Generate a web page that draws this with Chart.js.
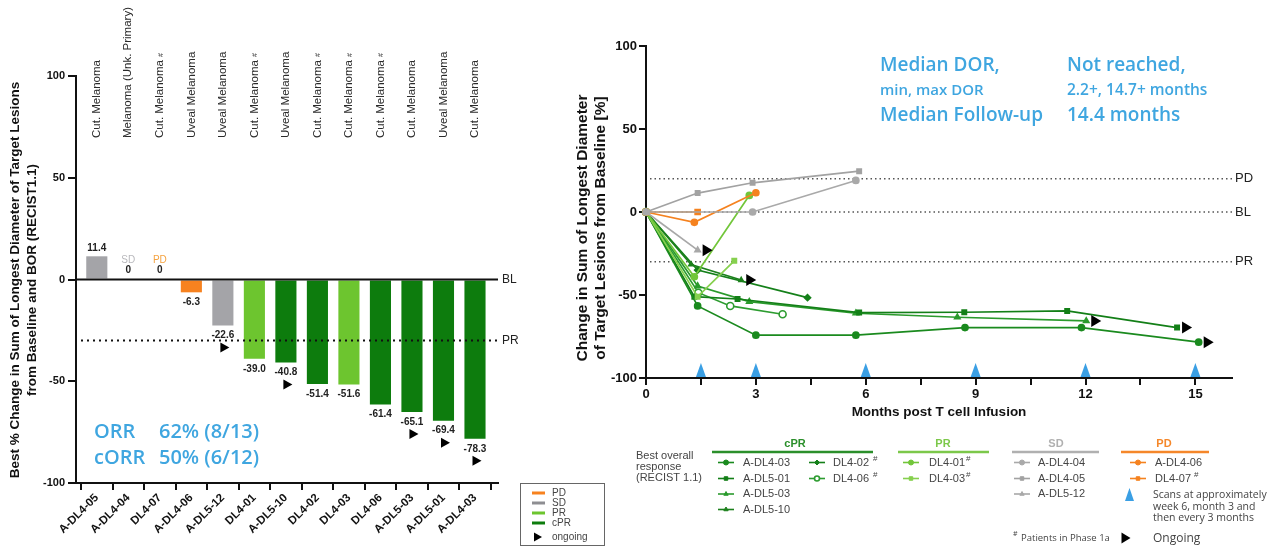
<!DOCTYPE html>
<html><head><meta charset="utf-8">
<script src="https://cdn.jsdelivr.net/npm/chart.js@4.4.0/dist/chart.umd.min.js"></script>
<style>
html,body{margin:0;padding:0;background:#fff;width:1275px;height:548px;overflow:hidden;}
#w1{position:absolute;left:0;top:0;width:620px;height:548px;}
#w2{position:absolute;left:560px;top:0;width:715px;height:548px;}
</style></head><body>
<div id="w1"><canvas id="c1"></canvas></div>
<div id="w2"><canvas id="c2"></canvas></div>
<script>
// ---------- Left chart data (waterfall) ----------
const patients = ['A-DL4-05','A-DL4-04','DL4-07','A-DL4-06','A-DL5-12','DL4-01','A-DL5-10','DL4-02','DL4-03','DL4-06','A-DL5-03','A-DL5-01','A-DL4-03'];
const bestChange = [11.4, 0, 0, -6.3, -22.6, -39.0, -40.8, -51.4, -51.6, -61.4, -65.1, -69.4, -78.3];
const bestResponse = ['SD','SD','PD','PD','SD','PR','cPR','cPR','PR','cPR','cPR','cPR','cPR'];
const indications = ['Cut. Melanoma','Melanoma (Unk. Primary)','Cut. Melanoma','Uveal Melanoma','Uveal Melanoma','Cut. Melanoma','Uveal Melanoma','Cut. Melanoma','Cut. Melanoma','Cut. Melanoma','Cut. Melanoma','Uveal Melanoma','Cut. Melanoma'];
const phase1a = [false,false,true,false,false,true,false,true,true,true,false,false,false];
const ongoingBar = [false,false,false,false,true,false,true,false,false,false,true,true,true];
const yTicksLeft = [-100,-50,0,50,100];
const prLine = -30;
const pdLine = 20;

// ---------- Right chart data (spider) ----------
const m_ADL4_03 = [0, 1.41, 3.0, 5.73, 8.71, 11.89, 15.09];
const v_ADL4_03 = [0, -56.6, -74.2, -74.2, -69.6, -69.6, -78.4];
const m_ADL5_01 = [0, 1.32, 2.5, 5.82, 8.69, 11.5, 14.5];
const v_ADL5_01 = [0, -51.0, -52.4, -60.6, -60.4, -59.6, -69.6];
const m_ADL5_03 = [0, 1.41, 2.82, 5.73, 8.5, 12.02];
const v_ADL5_03 = [0, -44.6, -54.0, -61.0, -63.4, -65.6];
const m_ADL5_10 = [0, 1.23, 2.6];
const v_ADL5_10 = [0, -31.6, -41.0];
const m_DL4_02 = [0, 1.41, 4.41];
const v_DL4_02 = [0, -35.0, -51.6];
const m_DL4_06 = [0, 1.43, 2.3, 3.73];
const v_DL4_06 = [0, -48.6, -56.6, -61.6];
const m_DL4_01 = [0, 1.32, 2.82];
const v_DL4_01 = [0, -39.0, 10.0];
const m_DL4_03 = [0, 1.41, 2.41];
const v_DL4_03 = [0, -51.0, -29.4];
const m_ADL4_04 = [0, 2.91, 5.73];
const v_ADL4_04 = [0, 0, 19.0];
const m_ADL4_05 = [0, 1.41, 2.91, 5.82];
const v_ADL4_05 = [0, 11.4, 17.6, 24.6];
const m_ADL5_12 = [0, 1.41];
const v_ADL5_12 = [0, -23.0];
const m_ADL4_06 = [0, 1.32, 3.0];
const v_ADL4_06 = [0, -6.2, 11.6];
const m_DL4_07 = [0, 1.41];
const v_DL4_07 = [0, 0];
const scanMonths = [1.5, 3, 6, 9, 12, 15];
const xTicksRight = [0, 3, 6, 9, 12, 15];

const COL = {SD:'#A4A4A8', PD:'#F7821F', PR:'#6DC52F', cPR:'#0D7C0D'};
const BLUE = '#3FA6E0';
const SANS = '"Liberation Sans", Arial, sans-serif';
const CAL = '"Open Sans", "Noto Sans", sans-serif';

function rightArrow(ctx, x, y, w, h){
  ctx.beginPath(); ctx.moveTo(x - w/2, y - h/2); ctx.lineTo(x + w/2, y); ctx.lineTo(x - w/2, y + h/2); ctx.closePath();
  ctx.fillStyle = '#000'; ctx.fill();
}

// ---------- Left chart ----------
const leftDeco = {
  id: 'leftDeco',
  afterDatasetsDraw(chart){
    const {ctx, chartArea: ca} = chart; const x = chart.scales.x, y = chart.scales.y;
    ctx.save();
    const y0 = y.getPixelForValue(0), yPR = y.getPixelForValue(prLine);
    ctx.strokeStyle = '#111'; ctx.lineWidth = 2;
    ctx.beginPath(); ctx.moveTo(ca.left, y0); ctx.lineTo(ca.right, y0); ctx.stroke();
    ctx.setLineDash([2,4]); ctx.beginPath(); ctx.moveTo(ca.left + 5, yPR); ctx.lineTo(ca.right, yPR); ctx.stroke(); ctx.setLineDash([]);
    ctx.fillStyle = '#222'; ctx.font = '12px ' + SANS; ctx.textBaseline = 'middle'; ctx.textAlign = 'left';
    ctx.fillText('BL', ca.right + 4, y0); ctx.fillText('PR', ca.right + 4, yPR);
    // value labels
    ctx.textAlign = 'center';
    bestChange.forEach((v, i) => {
      const px = x.getPixelForValue(i), py = y.getPixelForValue(v);
      ctx.font = 'bold 10px ' + SANS; ctx.fillStyle = '#222';
      if (v > 0) ctx.fillText(v.toFixed(1), px, py - 8);
      else if (v === 0) {
        ctx.fillText('0', px, y0 - 9);
        ctx.font = '10px ' + SANS; ctx.fillStyle = bestResponse[i] === 'PD' ? '#F5A340' : '#B8B8BC';
        ctx.fillText(bestResponse[i], px, y0 - 19);
      } else {
        ctx.fillText(v.toFixed(1), px, py + 10);
        if (ongoingBar[i]) rightArrow(ctx, px + 2, py + 22, 9, 10);
      }
    });
    // indication labels (rotated)
    indications.forEach((t, i) => {
      const px = x.getPixelForValue(i);
      ctx.save(); ctx.translate(px, 138); ctx.rotate(-Math.PI/2);
      ctx.font = '11.5px ' + SANS; ctx.fillStyle = '#2a2a2a'; ctx.textAlign = 'left'; ctx.textBaseline = 'middle';
      ctx.fillText(t, 0, 0);
      if (phase1a[i]) { const w = ctx.measureText(t).width; ctx.font = '7px ' + SANS; ctx.fillText('#', w + 3, 1); }
      ctx.restore();
    });
    // ORR text
    ctx.fillStyle = BLUE; ctx.font = '600 20px ' + CAL; ctx.textAlign = 'left'; ctx.textBaseline = 'middle';
    ctx.fillText('ORR', 94, 432); ctx.fillText('62% (8/13)', 159, 432);
    ctx.fillText('cORR', 94, 458); ctx.fillText('50% (6/12)', 159, 458);
    // y title
    ctx.save(); ctx.fillStyle = '#111'; ctx.font = 'bold 13.5px ' + SANS; ctx.textAlign = 'center';
    ctx.translate(15, 280); ctx.rotate(-Math.PI/2);
    ctx.fillText('Best % Change in Sum of Longest Diameter of Target Lesions', 0, 0);
    ctx.fillText('from Baseline and BOR (RECIST1.1)', 0, 17);
    ctx.restore();
    // legend box
    ctx.strokeStyle = '#666'; ctx.lineWidth = 1; ctx.strokeRect(520.5, 483.5, 84, 62);
    const items = [['PD', COL.PD], ['SD', '#8E8E92'], ['PR', COL.PR], ['cPR', COL.cPR]];
    ctx.font = '10px ' + SANS; ctx.textBaseline = 'middle';
    items.forEach((it, k) => {
      const yy = 493 + k * 10;
      ctx.strokeStyle = it[1]; ctx.lineWidth = 3; ctx.beginPath(); ctx.moveTo(532, yy); ctx.lineTo(545, yy); ctx.stroke();
      ctx.fillStyle = '#444'; ctx.fillText(it[0], 552, yy);
    });
    rightArrow(ctx, 538, 537, 8, 9);
    ctx.fillStyle = '#444'; ctx.fillText('ongoing', 552, 537);
    ctx.restore();
  }
};

new Chart(document.getElementById('c1'), {
  type: 'bar',
  data: { datasets: [{
    data: patients.map((p, i) => ({x: i, y: bestChange[i]})),
    backgroundColor: bestResponse.map(r => COL[r]),
    barPercentage: 0.67, categoryPercentage: 1.0, borderWidth: 0
  }]},
  options: {
    responsive: true, maintainAspectRatio: false, animation: false, devicePixelRatio: 1,
    layout: { padding: { left: 0, right: 122, top: 76, bottom: 0 } },
    plugins: { legend: { display: false }, tooltip: { enabled: false } },
    scales: {
      x: { type: 'linear', min: -0.66, max: 12.73, offset: false,
        afterBuildTicks: s => { s.ticks = patients.map((p, i) => ({ value: i })); },
        afterFit: s => { s.height = 65; },
        ticks: { autoSkip: false, minRotation: 45, maxRotation: 45, padding: 1,
          callback: v => patients[v], color: '#111', font: { size: 11.5, weight: 'bold', family: SANS } },
        grid: { drawOnChartArea: false, tickLength: 7, color: '#111', lineWidth: 2 },
        border: { color: '#111', width: 2 } },
      y: { min: -100, max: 100,
        afterBuildTicks: s => { s.ticks = yTicksLeft.map(v => ({ value: v })); },
        afterFit: s => { s.width = 76; },
        ticks: { padding: 3, color: '#111', font: { size: 11, weight: 'bold', family: SANS } },
        grid: { drawOnChartArea: false, tickLength: 8, color: '#111', lineWidth: 2 },
        border: { color: '#111', width: 2 } }
    }
  },
  plugins: [leftDeco]
});

// ---------- Right chart ----------
const OX = 560;
function ser(label, ms, vs, color, style, opts){
  return Object.assign({ label, data: ms.map((m, i) => ({x: m, y: vs[i]})), borderColor: color, backgroundColor: color,
    pointBackgroundColor: color, pointBorderColor: color, pointStyle: style, pointRadius: 3, borderWidth: 1.7, clip: false, tension: 0 }, opts || {});
}
const GR = {a:'#1A8A1E', b:'#137F17', c:'#2A9A2C', d:'#1C801C', e:'#15801A', f:'#2D9C30'};
const rightSeries = [
  ser('A-DL4-04', m_ADL4_04, v_ADL4_04, '#A9A9A9', 'circle'),
  ser('A-DL4-05', m_ADL4_05, v_ADL4_05, '#A2A2A2', 'rect'),
  ser('A-DL5-12', m_ADL5_12, v_ADL5_12, '#A8A8A8', 'triangle'),
  ser('A-DL4-06', m_ADL4_06, v_ADL4_06, '#F5821F', 'circle'),
  ser('DL4-07', m_DL4_07, v_DL4_07, '#F5821F', 'rect', {pointRadius: 3.5}),
  ser('DL4-01', m_DL4_01, v_DL4_01, '#72C63A', 'circle'),
  ser('DL4-03', m_DL4_03, v_DL4_03, '#86D04E', 'rect'),
  ser('A-DL4-03', m_ADL4_03, v_ADL4_03, GR.a, 'circle'),
  ser('A-DL5-01', m_ADL5_01, v_ADL5_01, GR.b, 'rect'),
  ser('A-DL5-03', m_ADL5_03, v_ADL5_03, GR.c, 'triangle'),
  ser('A-DL5-10', m_ADL5_10, v_ADL5_10, GR.d, 'triangle', {pointRadius: 2.5}),
  ser('DL4-02', m_DL4_02, v_DL4_02, GR.e, 'rectRot'),
  ser('DL4-06', m_DL4_06, v_DL4_06, GR.f, 'circle', {pointBackgroundColor: '#fff', pointBorderWidth: 1.6, pointRadius: 3.5})
];
const ongoingSeries = ['A-DL5-12','A-DL5-10','A-DL5-03','A-DL5-01','A-DL4-03'];

const rightDeco = {
  id: 'rightDeco',
  beforeDatasetsDraw(chart){
    const {ctx, chartArea: ca} = chart; const y = chart.scales.y;
    ctx.save(); ctx.strokeStyle = '#555'; ctx.lineWidth = 1.5; ctx.setLineDash([1.5, 3]);
    [[pdLine,'PD'],[0,'BL'],[prLine,'PR']].forEach(([v, t]) => {
      const py = y.getPixelForValue(v);
      ctx.beginPath(); ctx.moveTo(ca.left + 4, py); ctx.lineTo(ca.right, py); ctx.stroke();
    });
    ctx.setLineDash([]); ctx.fillStyle = '#222'; ctx.font = '13px ' + SANS; ctx.textBaseline = 'middle'; ctx.textAlign = 'left';
    [[pdLine,'PD'],[0,'BL'],[prLine,'PR']].forEach(([v, t]) => ctx.fillText(t, ca.right + 3, y.getPixelForValue(v)));
    ctx.restore();
  },
  afterDraw(chart){
    const {ctx, chartArea: ca} = chart; const x = chart.scales.x, y = chart.scales.y;
    ctx.save();
    // ongoing arrows
    chart.data.datasets.forEach(ds => {
      if (!ongoingSeries.includes(ds.label)) return;
      const last = ds.data[ds.data.length - 1];
      rightArrow(ctx, x.getPixelForValue(last.x) + 10, y.getPixelForValue(last.y), 10, 12);
    });
    // scan triangles
    ctx.fillStyle = '#3A9FE4';
    scanMonths.forEach(m => {
      const px = x.getPixelForValue(m), py = ca.bottom - 1;
      ctx.beginPath(); ctx.moveTo(px - 5, py); ctx.lineTo(px, py - 14); ctx.lineTo(px + 5, py); ctx.closePath(); ctx.fill();
    });
    // annotation text
    ctx.fillStyle = BLUE; ctx.textBaseline = 'middle'; ctx.textAlign = 'left';
    ctx.font = '600 19px ' + CAL; ctx.fillText('Median DOR,', 880 - OX, 66);
    ctx.font = '600 15px ' + CAL; ctx.fillText('min, max DOR', 880 - OX, 91);
    ctx.font = '600 19px ' + CAL; ctx.fillText('Median Follow-up', 880 - OX, 116);
    ctx.font = '600 19px ' + CAL; ctx.fillText('Not reached,', 1067 - OX, 66);
    ctx.font = '600 15.5px ' + CAL; ctx.fillText('2.2+, 14.7+ months', 1067 - OX, 91);
    ctx.font = '600 19px ' + CAL; ctx.fillText('14.4 months', 1067 - OX, 116);
    // axis titles
    ctx.fillStyle = '#111'; ctx.font = 'bold 13.5px ' + SANS; ctx.textAlign = 'center';
    ctx.fillText('Months post T cell Infusion', (ca.left + ca.right) / 2, 412);
    ctx.save(); ctx.translate(583 - OX, 228); ctx.rotate(-Math.PI/2); ctx.font = 'bold 15.5px ' + SANS;
    ctx.fillText('Change in Sum of Longest Diameter', 0, 0);
    ctx.fillText('of Target Lesions from Baseline [%]', 0, 18);
    ctx.restore();
    drawLegend(ctx);
    ctx.restore();
  }
};

function drawLegend(ctx){
  const byName = {}; rightSeries.forEach(s => byName[s.label] = s);
  ctx.textBaseline = 'middle'; ctx.textAlign = 'left'; ctx.fillStyle = '#444'; ctx.font = '11px ' + SANS;
  ctx.fillText('Best overall', 636 - OX, 456); ctx.fillText('response', 636 - OX, 467); ctx.fillText('(RECIST 1.1)', 636 - OX, 478);
  const heads = [['cPR', 795, 712, 873, '#2B8F2B'], ['PR', 943, 898, 989, '#7CC84A'], ['SD', 1056, 1012, 1099, '#B0B0B0'], ['PD', 1164, 1121, 1209, '#F5872A']];
  heads.forEach(h => {
    ctx.fillStyle = h[4]; ctx.font = 'bold 11px ' + SANS; ctx.textAlign = 'center'; ctx.fillText(h[0], h[1] - OX, 444);
    ctx.strokeStyle = h[4]; ctx.lineWidth = 2.5; ctx.beginPath(); ctx.moveTo(h[2] - OX, 452); ctx.lineTo(h[3] - OX, 452); ctx.stroke();
  });
  ctx.textAlign = 'left';
  const rows = [462.5, 478.5, 494, 509.5];
  const entries = [
    ['A-DL4-03', 726, rows[0], 743, 0], ['A-DL5-01', 726, rows[1], 743, 0], ['A-DL5-03', 726, rows[2], 743, 0], ['A-DL5-10', 726, rows[3], 743, 0],
    ['DL4-02', 817, rows[0], 833, 4], ['DL4-06', 817, rows[1], 833, 4],
    ['DL4-01', 911, rows[0], 929, 1], ['DL4-03', 911, rows[1], 929, 1],
    ['A-DL4-04', 1022, rows[0], 1038, 0], ['A-DL4-05', 1022, rows[1], 1038, 0], ['A-DL5-12', 1022, rows[2], 1038, 0],
    ['A-DL4-06', 1138, rows[0], 1155, 0], ['DL4-07', 1138, rows[1], 1155, 3]
  ];
  entries.forEach(e => {
    const ds = byName[e[0]];
    ctx.save();
    ctx.fillStyle = ds.pointBackgroundColor; ctx.strokeStyle = ds.borderColor;
    ctx.lineWidth = 1.6; ctx.beginPath(); ctx.moveTo(e[1] - 8 - OX, e[2]); ctx.lineTo(e[1] + 8 - OX, e[2]); ctx.stroke();
    ctx.lineWidth = ds.pointBorderWidth || 1;
    Chart.helpers.drawPoint(ctx, { pointStyle: ds.pointStyle, radius: 2.5, borderWidth: ds.pointBorderWidth || 1, rotation: 0 }, e[1] - OX, e[2]);
    ctx.restore();
    ctx.fillStyle = '#444'; ctx.font = '11px ' + SANS;
    ctx.fillText(e[0], e[3] - OX, e[2]);
    if (e[4]) { const w = ctx.measureText(e[0]).width; ctx.font = '8px ' + SANS; ctx.fillText('#', e[3] - OX + w + e[4], e[2] - 4); }
  });
  // scans legend
  ctx.fillStyle = '#3A9FE4';
  ctx.beginPath(); ctx.moveTo(1125 - OX, 501); ctx.lineTo(1129.5 - OX, 488); ctx.lineTo(1134 - OX, 501); ctx.closePath(); ctx.fill();
  ctx.fillStyle = '#444'; ctx.font = '10.5px ' + CAL;
  ctx.fillText('Scans at approximately', 1153 - OX, 495);
  ctx.fillText('week 6, month 3 and', 1153 - OX, 507);
  ctx.fillText('then every 3 months', 1153 - OX, 518.5);
  ctx.font = '7px ' + CAL; ctx.fillText('#', 1013 - OX, 534);
  ctx.font = '9.5px ' + CAL; ctx.fillText('Patients in Phase 1a', 1021 - OX, 538);
  rightArrow(ctx, 1126 - OX, 538, 9, 11);
  ctx.fillStyle = '#444'; ctx.font = '12px ' + CAL; ctx.fillText('Ongoing', 1153 - OX, 539);
}

new Chart(document.getElementById('c2'), {
  type: 'line',
  data: { datasets: rightSeries },
  options: {
    responsive: true, maintainAspectRatio: false, animation: false, devicePixelRatio: 1,
    layout: { padding: { left: 0, right: 43, top: 46, bottom: 0 } },
    plugins: { legend: { display: false }, tooltip: { enabled: false } },
    scales: {
      x: { type: 'linear', min: 0, max: 16,
        afterBuildTicks: s => { const t = []; for (let k = 0; k <= 10; k++) t.push({ value: k * 1.5 }); s.ticks = t; },
        afterFit: s => { s.height = 170; },
        ticks: { autoSkip: false, maxRotation: 0, padding: 2, color: '#111', font: { size: 13, weight: 'bold', family: SANS },
          callback: v => xTicksRight.includes(v) ? String(v) : '' },
        grid: { drawOnChartArea: false, tickLength: 7, color: '#111', lineWidth: 2 },
        border: { color: '#111', width: 2 } },
      y: { min: -100, max: 100,
        afterBuildTicks: s => { s.ticks = yTicksLeft.map(v => ({ value: v })); },
        afterFit: s => { s.width = 86; },
        ticks: { padding: 2, color: '#111', font: { size: 13, weight: 'bold', family: SANS } },
        grid: { drawOnChartArea: false, tickLength: 7, color: '#111', lineWidth: 2 },
        border: { color: '#111', width: 2 } }
    }
  },
  plugins: [rightDeco]
});
</script></body></html>
